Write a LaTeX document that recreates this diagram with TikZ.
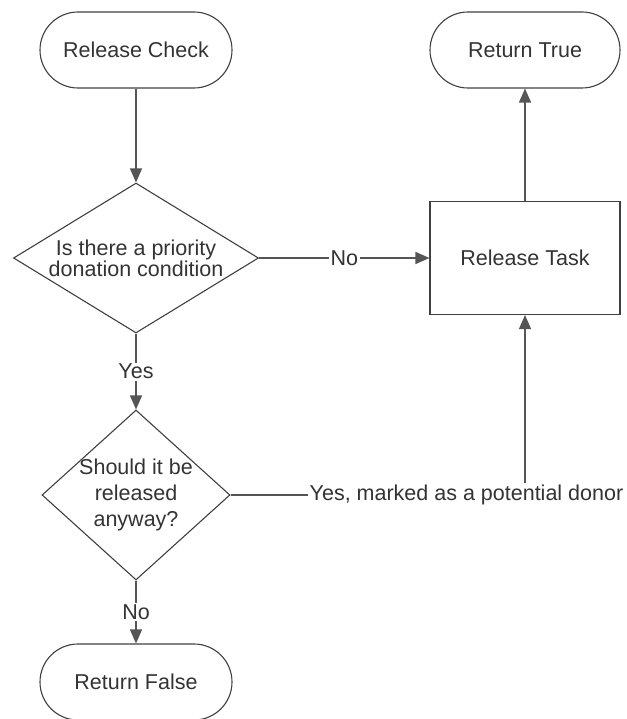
\documentclass[tikz,border=0pt]{standalone}
\usepackage{fontspec}
\setmainfont{Liberation Sans}
\usetikzlibrary{shapes.geometric,arrows.meta}
\definecolor{ink}{HTML}{333333}
\definecolor{edge}{HTML}{404040}
\definecolor{wire}{HTML}{555555}
\begin{document}
\begin{tikzpicture}[x=1pt,y=-1pt,
  every node/.style={font=\fontsize{21.5}{21}\selectfont, text=ink},
  terminal/.style={draw=edge, line width=1.1pt, rectangle, rounded corners=38pt,
    minimum width=192pt, minimum height=76pt, inner sep=0pt},
  process/.style={draw=edge, line width=1.1pt, rectangle,
    minimum width=190pt, minimum height=113pt, inner sep=0pt},
  decision/.style={draw=edge, line width=1.1pt, diamond, inner sep=0pt},
  flow/.style={draw=wire, line width=1.3pt, -{Triangle[length=14pt,width=12pt]}},
  tag/.style={fill=white, inner sep=1.5pt}
]
\clip (0,0) rectangle (626,719);

% terminals and steps
\node[terminal] (rc) at (136,50) {Release Check};
\node[terminal, minimum width=190pt] (rtrue) at (525,50) {Return True};
\node[process] (rt) at (525,258) {Release Task};
\node[decision, minimum width=245pt, minimum height=150pt,
  label={[align=center, font=\fontsize{21.5}{20}\selectfont]center:Is there a priority\\donation condition}] (d1) at (136,258) {};
\node[decision, minimum width=188pt, minimum height=170pt,
  label={[align=center, font=\fontsize{21.5}{26}\selectfont]center:Should it be\\released\\anyway?}] (d2) at (136,495) {};
\node[terminal] (rf) at (136,682) {Return False};

% connectors
\draw[flow] (rc) -- (d1);
\draw[flow] (d1) -- node[tag] {No} (rt);
\draw[flow] (d1) -- node[tag] {Yes} (d2);
\draw[flow] (d2) -- node[tag] {No} (rf);
\draw[flow] (rt) -- (rtrue);
\draw[flow] (d2.east) -- (d2.east -| rt.south) -- (rt.south);
\node[tag, anchor=west] (donor) at (308,495) {Yes, marked as a potential donor};
\end{tikzpicture}
\end{document}
